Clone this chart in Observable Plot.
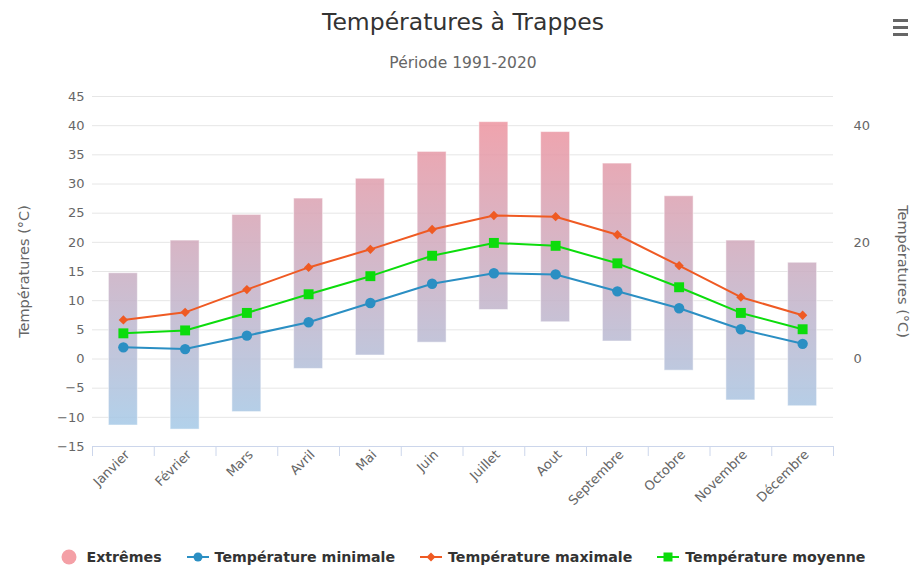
<!DOCTYPE html>
<html><head><meta charset="utf-8">
<script src="https://cdn.jsdelivr.net/npm/d3@7"></script>
<script src="https://cdn.jsdelivr.net/npm/@observablehq/plot@0.6"></script>
<style>
body{margin:0;background:#fff;font-family:"DejaVu Sans",sans-serif;}
#wrap{position:relative;width:910px;height:566px;overflow:hidden;background:#fff;}
#title{position:absolute;left:18px;width:890px;top:6px;text-align:center;font-size:23.5px;color:#333;line-height:32px;}
#subtitle{position:absolute;left:18px;width:890px;top:52px;text-align:center;font-size:15.5px;color:#666;line-height:22px;}
#menu{position:absolute;left:893px;top:19px;width:15px;}
#menu div{height:3px;background:#666;margin-bottom:4px;}
#chart{position:absolute;left:0;top:82px;}
#legend{position:absolute;left:18px;width:890px;top:549px;display:flex;justify-content:center;align-items:center;gap:25px;font-size:14.2px;font-weight:bold;color:#333;}
#legend .item{display:flex;align-items:center;gap:6px;}
#legend .item.bubble{gap:10px;}
#legend svg{display:block;}
</style>
</head><body>
<div id="wrap">
  <div id="title">Températures à Trappes</div>
  <div id="subtitle">Période 1991-2020</div>
  <div id="menu"><div></div><div></div><div></div></div>
  <div id="chart"></div>
  <div id="legend"></div>
</div>
<script>
const months = ["Janvier","Février","Mars","Avril","Mai","Juin","Juillet","Aout","Septembre","Octobre","Novembre","Décembre"];
const extremeMin = [-11.4,-12.1,-9.1,-1.7,0.6,2.8,8.4,6.3,3.0,-2.0,-7.1,-8.1];
const extremeMax = [14.7,20.3,24.7,27.5,30.9,35.5,40.6,38.9,33.5,27.9,20.3,16.5];
const tempMin = [2.0,1.7,4.0,6.3,9.6,12.9,14.7,14.5,11.6,8.7,5.1,2.6];
const tempMax = [6.7,8.0,11.9,15.7,18.8,22.2,24.6,24.4,21.3,16.0,10.6,7.5];
const tempMoy = [4.4,4.9,7.9,11.1,14.2,17.7,19.9,19.4,16.4,12.3,7.9,5.1];
const leftTicks = [-15,-10,-5,0,5,10,15,20,25,30,35,40,45];
const rightTicks = [0,20,40];
const axisTitle = "Températures (°C)";

const colMin = "#2b8fc3", colMax = "#ef5a23", colMoy = "#0cdc0c";
const rows = months.map((m, i) => ({i, m, lo: extremeMin[i], hi: extremeMax[i], tmin: tempMin[i], tmax: tempMax[i], tmoy: tempMoy[i]}));
const idx = d3.range(months.length);
const bounds = d3.range(months.length + 1).map(k => k - 0.5);

const chart = Plot.plot({
  width: 910, height: 448,
  marginTop: 14, marginBottom: 84, marginLeft: 92, marginRight: 77,
  x: {domain: [-0.5, months.length - 0.5], label: null},
  y: {domain: [-15, 45], label: null},
  style: {fontFamily: "DejaVu Sans, sans-serif", fontSize: "12px", color: "#666", background: "transparent"},
  marks: [
    Plot.gridY(leftTicks.filter(t => t > -15), {stroke: "#e6e6e6", strokeOpacity: 1}),
    Plot.rect(rows, {x1: d => d.i - 0.5, x2: d => d.i + 0.5, y1: "lo", y2: "hi", insetLeft: 16.4, insetRight: 16.4,
      fill: "url(#extGrad)", fillOpacity: 0.85, stroke: "#fff", strokeOpacity: 0.5, strokeWidth: 1}),
    Plot.ruleY([-15], {stroke: "#ccd6eb"}),
    Plot.axisX(bounds, {tickSize: 10, tickFormat: () => "", stroke: "#ccd6eb"}),
    Plot.axisX(idx, {tickSize: 0, tickPadding: 6, tickRotate: -45, tickFormat: i => months[i], fill: "#666", fontSize: 13, dx: 4}),
    Plot.axisY(leftTicks, {anchor: "left", tickSize: 0, tickPadding: 8, fill: "#666", fontSize: 13}),
    Plot.axisY(rightTicks, {anchor: "right", tickSize: 0, tickPadding: 20, fill: "#666", fontSize: 13}),
    Plot.line(rows, {x: "i", y: "tmin", stroke: colMin, strokeWidth: 2}),
    Plot.dot(rows, {x: "i", y: "tmin", symbol: "circle", r: 5.2, fill: colMin}),
    Plot.line(rows, {x: "i", y: "tmax", stroke: colMax, strokeWidth: 2}),
    Plot.dot(rows, {x: "i", y: "tmax", symbol: "diamond2", r: 4.2, fill: colMax}),
    Plot.line(rows, {x: "i", y: "tmoy", stroke: colMoy, strokeWidth: 2}),
    Plot.dot(rows, {x: "i", y: "tmoy", symbol: "square", r: 5.6, fill: colMoy}),
    Plot.text([axisTitle], {frameAnchor: "left", rotate: -90, dx: -68, textAnchor: "middle", fontSize: 14.5, fill: "#666"}),
    Plot.text([axisTitle], {frameAnchor: "right", rotate: 90, dx: 69, textAnchor: "middle", fontSize: 14.5, fill: "#666"})
  ]
});

// gradient for the extremes bars, in the plot's user space
const ys = chart.scale("y");
const ns = "http://www.w3.org/2000/svg";
const defs = document.createElementNS(ns, "defs");
const grad = document.createElementNS(ns, "linearGradient");
grad.setAttribute("id", "extGrad");
grad.setAttribute("gradientUnits", "userSpaceOnUse");
grad.setAttribute("x1", 0); grad.setAttribute("x2", 0);
grad.setAttribute("y1", ys.apply(45)); grad.setAttribute("y2", ys.apply(-15));
[["0%", "#f38f99"], ["100%", "#a0cceb"]].forEach(([o, c]) => {
  const s = document.createElementNS(ns, "stop");
  s.setAttribute("offset", o); s.setAttribute("stop-color", c);
  grad.appendChild(s);
});
defs.appendChild(grad);
chart.insertBefore(defs, chart.firstChild);
document.getElementById("chart").appendChild(chart);

// legend
const legendItems = [
  {label: "Extrêmes", kind: "bubble", color: "#f4a0a6"},
  {label: "Température minimale", kind: "circle", color: colMin},
  {label: "Température maximale", kind: "diamond", color: colMax},
  {label: "Température moyenne", kind: "square", color: colMoy}
];
const legend = document.getElementById("legend");
legendItems.forEach(it => {
  const item = document.createElement("div");
  item.className = "item" + (it.kind === "bubble" ? " bubble" : "");
  let sym;
  if (it.kind === "bubble") {
    sym = `<svg width="16" height="16"><circle cx="8" cy="8" r="7.5" fill="${it.color}"/></svg>`;
  } else {
    let m = "";
    if (it.kind === "circle") m = `<circle cx="11" cy="8" r="4.5" fill="${it.color}"/>`;
    if (it.kind === "diamond") m = `<path d="M11 3.5L15.5 8L11 12.5L6.5 8Z" fill="${it.color}"/>`;
    if (it.kind === "square") m = `<rect x="6.5" y="3.5" width="9" height="9" fill="${it.color}"/>`;
    sym = `<svg width="22" height="16"><line x1="0" x2="22" y1="8" y2="8" stroke="${it.color}" stroke-width="2"/>${m}</svg>`;
  }
  item.innerHTML = sym + `<span>${it.label}</span>`;
  legend.appendChild(item);
});
</script>
</body></html>
